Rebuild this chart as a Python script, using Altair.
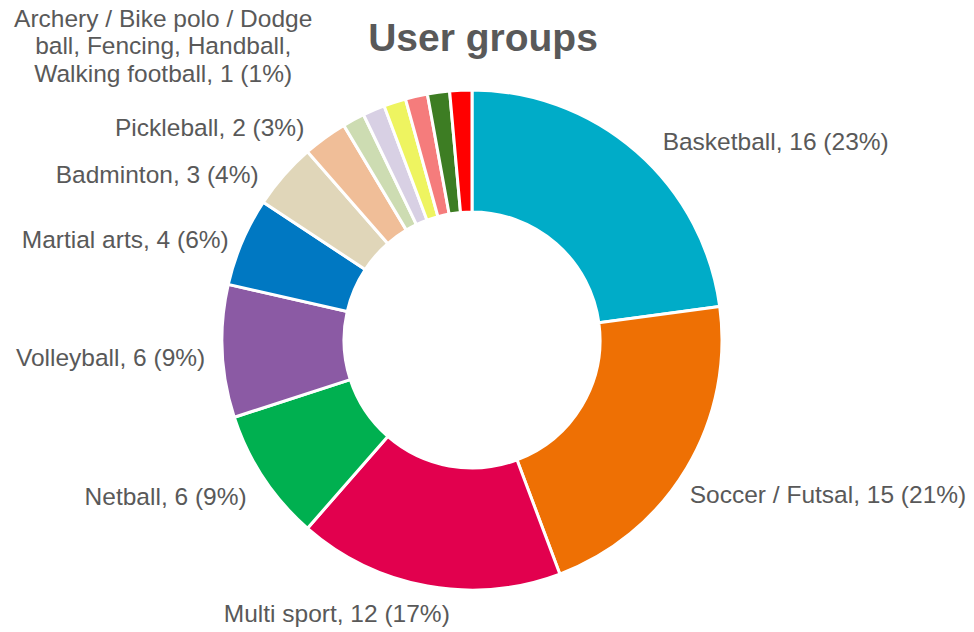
import altair as alt
import pandas as pd

# ---- data ----
categories = ["Basketball", "Soccer / Futsal", "Multi sport", "Netball", "Volleyball",
              "Martial arts", "Badminton", "Pickleball",
              "Archery", "Bike polo", "Dodge ball", "Fencing", "Handball", "Walking football"]
values = [16, 15, 12, 6, 6, 4, 3, 2, 1, 1, 1, 1, 1, 1]
colors = ["#00acc8", "#ee7004", "#e2004e", "#00b050", "#8b5aa4", "#0078c2",
          "#e0d6b9", "#f0be98", "#cddcb2", "#d8d0e4", "#eef460", "#f57c7c",
          "#3d7d23", "#ff0000"]
merged_label_lines = ["Archery / Bike polo / Dodge", "ball, Fencing, Handball,", "Walking football, 1 (1%)"]

total = sum(values)
df = pd.DataFrame({"category": categories, "value": values, "idx": list(range(len(values)))})

# label table built from the arrays
cum = 0
rows = []
for c, v in zip(categories, values):
    mid = cum + v / 2
    cum += v
    rows.append({"category": c, "value": v, "mid": mid,
                 "label": f"{c}, {v} ({round(100 * v / total)}%)"})
lab = pd.DataFrame(rows)
small_mid = (lab["mid"].iloc[8] + lab["mid"].iloc[-1]) / 2
merged = pd.DataFrame({"mid": [small_mid], "label": ["\n".join(merged_label_lines)]})

FONT = "Liberation Sans"
TXT = "#595959"
theta_scale = alt.Scale(domain=[0, total])

arcs = alt.Chart(df).mark_arc(outerRadius=250, innerRadius=128, stroke="white", strokeWidth=3).encode(
    theta=alt.Theta("value:Q", stack=True, scale=theta_scale),
    color=alt.Color("category:N", scale=alt.Scale(domain=categories, range=colors), legend=None),
    order=alt.Order("idx:Q"),
)

def text_layer(data, align, **kw):
    return alt.Chart(data).mark_text(radius=270, align=align, baseline="middle", font=FONT,
                                     fontSize=24.5, color=TXT, **kw).encode(
        theta=alt.Theta("mid:Q", stack=None, scale=theta_scale),
        text="label:N",
    )

# label placement style: (align, dx, dy)
label_style = {
    "Basketball": ("left", 13, 6),
    "Soccer / Futsal": ("left", -14, 18),
    "Multi sport": ("right", 26, 9),
    "Netball": ("right", 0, 9),
    "Volleyball": ("right", 3, 7),
    "Martial arts": ("right", 5, 7),
    "Badminton": ("right", -10, 14),
    "Pickleball": ("right", -9, 7),
}
layers = [arcs]
for cat, (al, dx, dy) in label_style.items():
    layers.append(text_layer(lab[lab["category"] == cat], al, dx=dx, dy=dy))
layers.append(text_layer(merged, "center", dx=-237, dy=-60, lineBreak="\n", lineHeight=27.5))

chart = alt.layer(*layers).properties(
    width=944, height=560,
    title=alt.TitleParams("User groups", font=FONT, fontSize=39, fontWeight="bold", color=TXT,
                          anchor="middle", dx=11, dy=56),
    autosize=alt.AutoSizeParams(type="none"),
    padding={"left": 0, "top": 60, "right": 30, "bottom": 12},
).configure_view(stroke=None)

chart.save("out.html", embed_options={"renderer": "svg", "actions": False})
